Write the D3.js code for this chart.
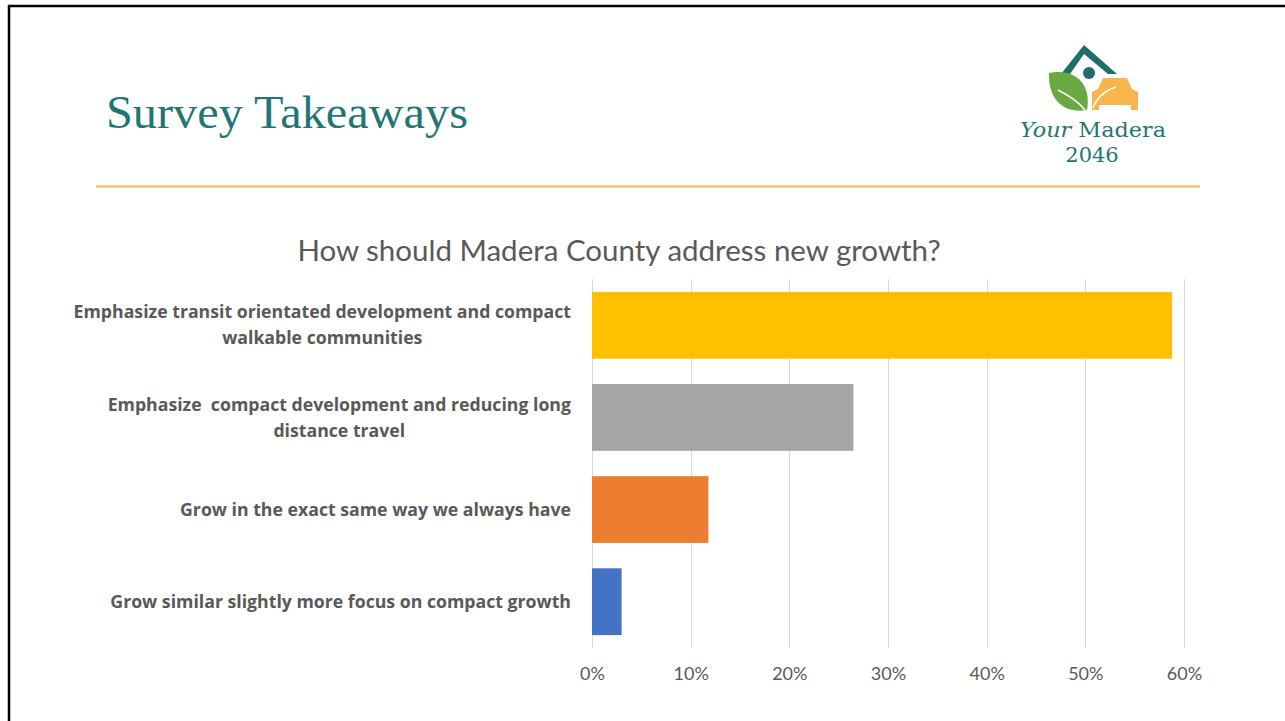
<!DOCTYPE html>
<html>
<head>
<meta charset="utf-8">
<script src="https://cdn.jsdelivr.net/npm/d3@7"></script>
<style>
  html, body { margin: 0; padding: 0; background: #fff; }
  svg { display: block; }
  .cat { white-space: pre; }
</style>
</head>
<body>
<svg id="slide" width="1285" height="721"></svg>
<script>
// Survey answers, top to bottom
const categories = [
  ["Emphasize transit orientated development and compact", "walkable communities"],
  ["Emphasize  compact development and reducing long", "distance travel"],
  ["Grow in the exact same way we always have"],
  ["Grow similar slightly more focus on compact growth"]
];
const shares = [0.588, 0.265, 0.118, 0.030];
const barColors = ["#ffc000", "#a5a5a5", "#ed7d31", "#4472c4"];
const tickValues = [0, 0.1, 0.2, 0.3, 0.4, 0.5, 0.6];

const svg = d3.select("#slide");
const teal = "#1f7672";
const grey = "#595959";

// slide frame
svg.append("line").attr("x1", 8).attr("x2", 1285).attr("y1", 6).attr("y2", 6)
  .attr("stroke", "#000").attr("stroke-width", 2.5);
svg.append("line").attr("x1", 9).attr("x2", 9).attr("y1", 5).attr("y2", 721)
  .attr("stroke", "#000").attr("stroke-width", 2.5);

// heading
svg.append("text").attr("x", 106).attr("y", 128)
  .attr("font-family", "Liberation Serif, serif").attr("font-size", 46)
  .attr("fill", teal).attr("textLength", 362).attr("lengthAdjust", "spacingAndGlyphs")
  .text("Survey Takeaways");
svg.append("line").attr("x1", 96).attr("x2", 1200).attr("y1", 186.5).attr("y2", 186.5)
  .attr("stroke", "#f5b849").attr("stroke-width", 2);

// logo
const logo = svg.append("g");
logo.append("path")
  .attr("d", "M1061,74 L1084,45 L1117,74 L1108,74 L1084,54 L1070,74 Z")
  .attr("fill", "#1f6e6a");
logo.append("circle").attr("cx", 1089).attr("cy", 73).attr("r", 6).attr("fill", "#1f6e6a");
logo.append("path")
  .attr("d", "M1049,73 C1073,68 1092,82 1087,110 C1064,114 1048,100 1049,73 Z")
  .attr("fill", "#6aa842");
logo.append("path")
  .attr("d", "M1058,90 C1070,96 1078,101 1085,110")
  .attr("fill", "none").attr("stroke", "#fff").attr("stroke-width", 1.5);
logo.append("path")
  .attr("d", "M1092,110 L1092,92 L1098,89 L1103,78 L1127,78 L1132,89 L1138,92 L1138,110 L1131,110 L1131,105 L1099,105 L1099,110 Z")
  .attr("fill", "#f8b54b");
logo.append("path")
  .attr("d", "M1093,108 C1097,97 1104,91 1116,87")
  .attr("fill", "none").attr("stroke", "#fff").attr("stroke-width", 1.5);
logo.append("text").attr("x", 1093).attr("y", 137).attr("text-anchor", "middle")
  .attr("font-family", "DejaVu Serif, serif").attr("font-size", 21).attr("fill", teal)
  .attr("textLength", 146).attr("lengthAdjust", "spacingAndGlyphs")
  .html('<tspan font-style="italic">Your</tspan> Madera');
logo.append("text").attr("x", 1092).attr("y", 162).attr("text-anchor", "middle")
  .attr("font-family", "DejaVu Serif, serif").attr("font-size", 21).attr("fill", teal)
  .text("2046");

// chart title
svg.append("text").attr("x", 619).attr("y", 261).attr("text-anchor", "middle")
  .attr("font-family", "Lato, sans-serif").attr("font-size", 29.5).attr("fill", grey)
  .text("How should Madera County address new growth?");

// scales
const x = d3.scaleLinear().domain([0, 0.6]).range([592, 1184]);
const y = d3.scaleBand().domain(d3.range(categories.length)).range([279, 648])
  .paddingInner(0.275).paddingOuter(0.14);

// gridlines
svg.append("g").selectAll("line").data(tickValues).join("line")
  .attr("x1", d => Math.round(x(d)) + 0.5).attr("x2", d => Math.round(x(d)) + 0.5)
  .attr("y1", 279).attr("y2", 648)
  .attr("stroke", "#d9d9d9").attr("stroke-width", 1);

// bars
svg.append("g").selectAll("rect").data(shares).join("rect")
  .attr("x", x(0)).attr("y", (d, i) => y(i))
  .attr("width", d => x(d) - x(0)).attr("height", y.bandwidth())
  .attr("fill", (d, i) => barColors[i]);

// x axis tick labels
const xAxis = d3.axisBottom(x).tickValues(tickValues).tickFormat(d3.format(".0%")).tickSize(0).tickPadding(0);
const gx = svg.append("g").attr("transform", "translate(0,667)").call(xAxis);
gx.select(".domain").remove();
gx.selectAll("text").attr("font-family", "Lato, sans-serif").attr("font-size", 18)
  .attr("fill", grey).attr("dy", "0.71em");

// category labels: block right-aligned to the plot, lines centred within the block
const labelRight = 571;
const lab = svg.append("g").selectAll("text").data(categories).join("text")
  .attr("class", "cat")
  .attr("font-family", "Open Sans, sans-serif").attr("font-weight", "bold").attr("font-size", 17.7)
  .attr("fill", grey).attr("text-anchor", "middle");
lab.each(function(lines, i) {
  const cy = y(i) + y.bandwidth() / 2;
  const lh = 26;
  const t0 = cy - (lines.length - 1) * lh / 2;
  const spans = d3.select(this).selectAll("tspan").data(lines).join("tspan")
    .attr("y", (d, k) => t0 + k * lh)
    .attr("dy", "0.35em")
    .text(d => d);
  let maxW = 0;
  spans.each(function() { maxW = Math.max(maxW, this.getComputedTextLength()); });
  spans.attr("x", labelRight - maxW / 2);
});
</script>
</body>
</html>
